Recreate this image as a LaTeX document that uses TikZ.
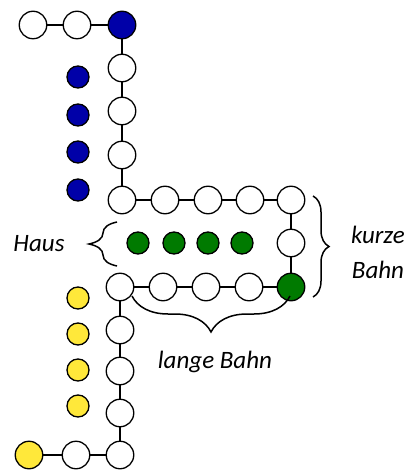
\documentclass[tikz,border=0pt]{standalone}
\usepackage{fontspec}
\setmainfont{Carlito}
\usetikzlibrary{decorations.pathreplacing}
\definecolor{dotblue}{RGB}{0,0,168}
\definecolor{dotgreen}{RGB}{0,122,0}
\definecolor{dotyellow}{RGB}{255,232,58}
\begin{document}
\begin{tikzpicture}[x=1pt,y=-1pt,
  stop/.style={circle,draw,line width=1.3pt,fill=white,minimum size=27.5pt,inner sep=0pt},
  dot/.style={circle,draw,line width=1.3pt,minimum size=22pt,inner sep=0pt},
  link/.style={line width=1.3pt},
  lbl/.style={font=\fontsize{25}{30}\selectfont\itshape},
  brc/.style={decorate,decoration={brace,amplitude=#1},line width=1.5pt}]
\path[use as bounding box] (0,0) rectangle (409,470);

% upper track
\node[stop] (t1) at (33,25) {};
\node[stop] (t2) at (77,25) {};
\node[stop,fill=dotblue] (t3) at (122,25) {};
\node[stop] (c1) at (122,68) {};
\node[stop] (c2) at (122,111) {};
\node[stop] (c3) at (122,155) {};
\node[stop] (r1) at (122,200) {};
\node[stop] (r2) at (165,200) {};
\node[stop] (r3) at (208,200) {};
\node[stop] (r4) at (250,200) {};
\node[stop] (r5) at (291,200) {};
\node[stop] (k1) at (291,243) {};
\node[stop,fill=dotgreen] (k2) at (291,287) {};
% lower track
\node[stop] (b4) at (249,287) {};
\node[stop] (b3) at (206,287) {};
\node[stop] (b2) at (163,287) {};
\node[stop] (b1) at (120,287) {};
\node[stop] (d1) at (120,330) {};
\node[stop] (d2) at (120,371) {};
\node[stop] (d3) at (120,413) {};
\node[stop] (d4) at (120,455) {};
\node[stop] (e2) at (76,455) {};
\node[stop,fill=dotyellow] (e1) at (29,455) {};

\draw[link] (t1)--(t2) (t2)--(t3) (t3)--(c1) (c1)--(c2) (c2)--(c3) (c3)--(r1)
  (r1)--(r2) (r2)--(r3) (r3)--(r4) (r4)--(r5) (r5)--(k1) (k1)--(k2);
\draw[link] (k2)--(b4) (b4)--(b3) (b3)--(b2) (b2)--(b1) (b1)--(d1) (d1)--(d2)
  (d2)--(d3) (d3)--(d4) (d4)--(e2) (e2)--(e1);

% pieces waiting outside
\foreach \y [count=\i] in {77,115,152,190}
  \node[dot,fill=dotblue] (p\i) at (78,\y) {};
\foreach \x [count=\i] in {138,174,208,242}
  \node[dot,fill=dotgreen] (g\i) at (\x,243) {};
\foreach \y [count=\i] in {298,334,370,406}
  \node[dot,fill=dotyellow] (y\i) at (78,\y) {};

% braces and labels
\coordinate (hs) at (117,266);
\coordinate (he) at (117,222);
\draw[brc=28pt] (hs) -- (he);
\node[lbl] (haus) at (39,244) {Haus};

\coordinate (ks) at (313,196);
\coordinate (ke) at (313,297);
\draw[brc=16pt] (ks) -- (ke);
\node[lbl] (kurze) at (378,235) {kurze};
\node[lbl] (bahn) at (378,270) {Bahn};

\coordinate (ls) at (290,296);
\coordinate (le) at (132,296);
\draw[brc=36pt] (ls) -- (le);
\node[lbl] (lange) at (215,362) {lange Bahn};
\end{tikzpicture}
\end{document}
